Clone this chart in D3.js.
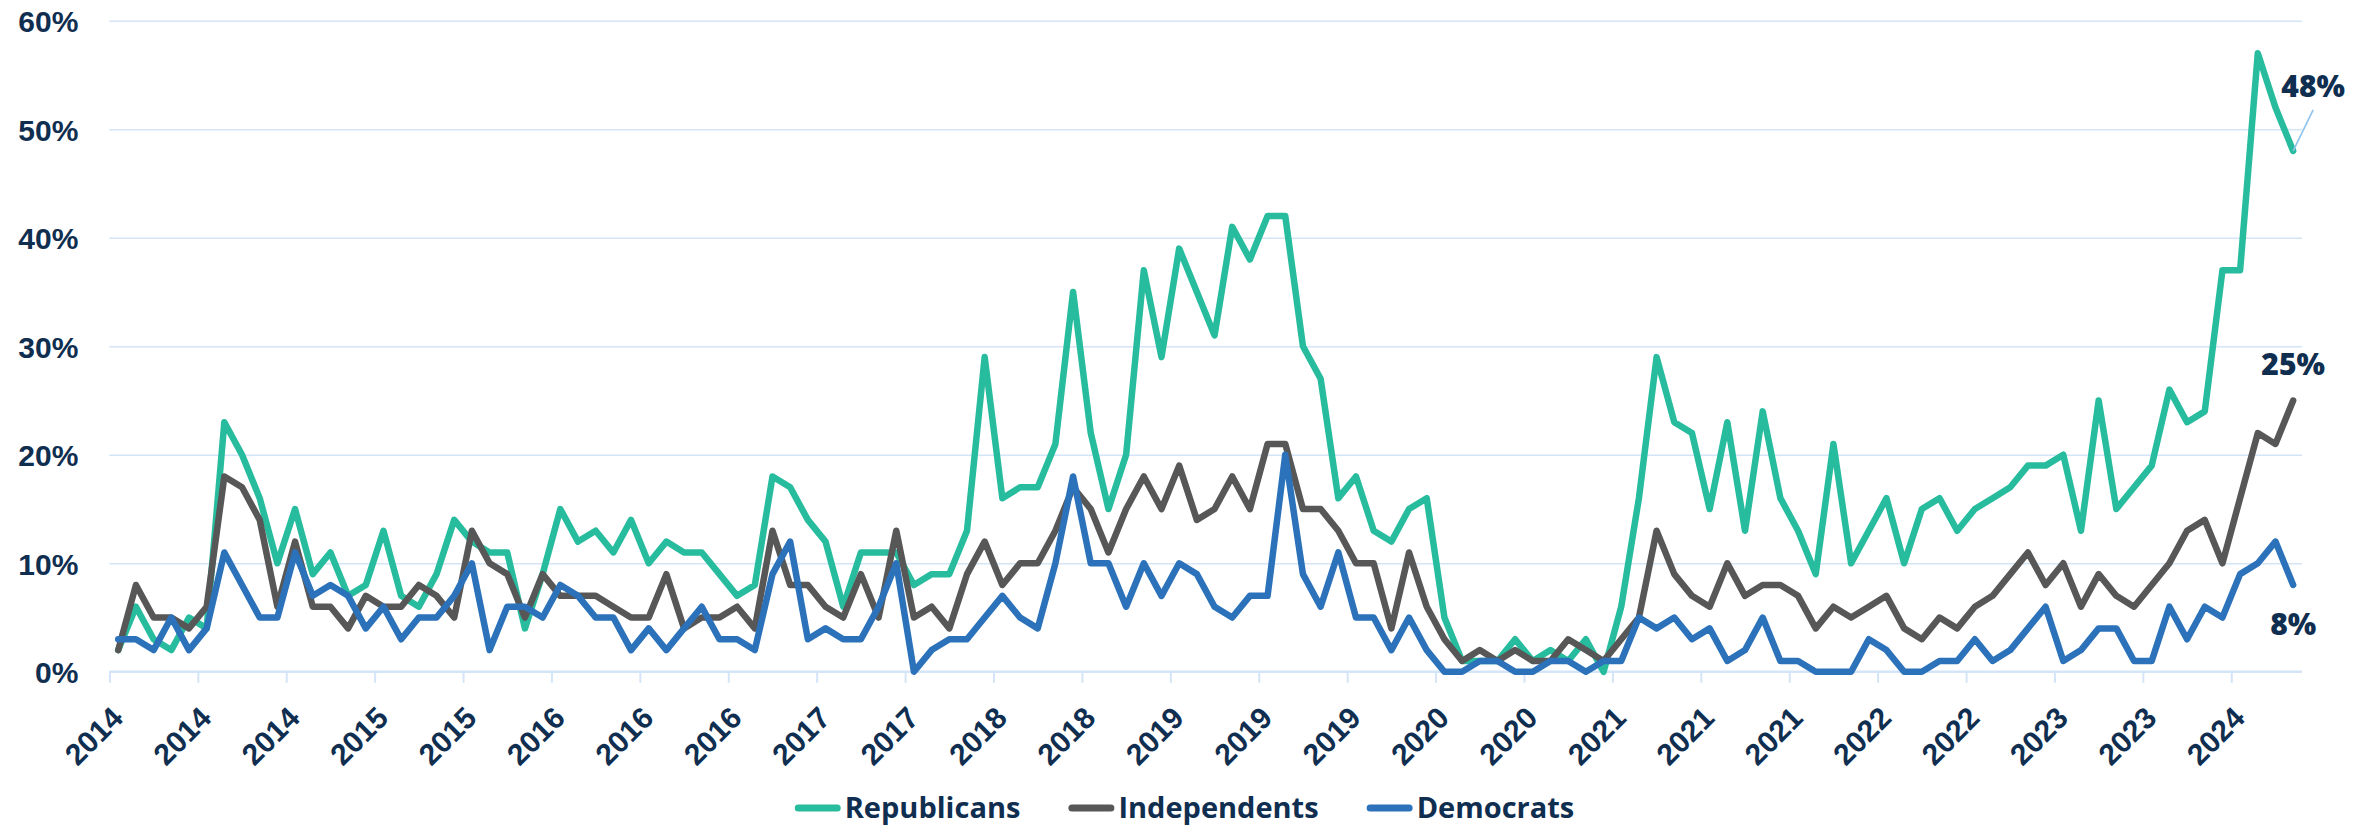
<!DOCTYPE html>
<html>
<head>
<meta charset="utf-8">
<script src="https://cdn.jsdelivr.net/npm/d3@7"></script>
<style>
  html, body { margin: 0; padding: 0; background: #ffffff; }
  svg { display: block; font-family: "Open Sans", "Noto Sans", sans-serif; }
</style>
</head>
<body>
<svg id="chart" width="2374" height="828"></svg>
<script>
// ---------------- data ----------------
const startMonth = "2014-01";           // first category (monthly, Jan 2014 .. Apr 2024)
const monthCount = 124;
const tickLabels = ["2014","2014","2014","2015","2015","2016","2016","2016","2017","2017",
  "2018","2018","2019","2019","2019","2020","2020","2021","2021","2021",
  "2022","2022","2023","2023","2024"];
const tickEvery = 5;

const seriesNames = ["Republicans", "Independents", "Democrats"];

const republicans = [2,6,3,2,5,4,23,20,16,10,15,9,11,7,8,13,7,6,9,14,
  12,11,11,4,9,15,12,13,11,14,10,12,11,11,9,7,8,18,17,14,
  12,6,11,11,11,8,9,9,13,29,16,17,17,21,35,22,15,20,37,29,
  39,35,31,41,38,42,42,30,27,16,18,13,12,15,16,5,1,1,1,3,
  1,2,1,3,0,6,16,29,23,22,15,23,13,24,16,13,9,21,10,13,
  16,10,15,16,13,15,16,17,19,19,20,13,25,15,17,19,26,23,24,37,
  37,57,52,48];

const independents = [2,8,5,5,4,6,18,17,14,6,12,6,6,4,7,6,6,8,7,5,
  13,10,9,5,9,7,7,7,6,5,5,9,4,5,5,6,4,13,8,8,
  6,5,9,5,13,5,6,4,9,12,8,10,10,13,17,15,11,15,18,15,
  19,14,15,18,15,21,21,15,15,13,10,10,4,11,6,3,1,2,1,2,
  1,1,3,2,1,3,5,13,9,7,6,10,7,8,8,7,4,6,5,6,
  7,4,3,5,4,6,7,9,11,8,10,6,9,7,6,8,10,13,14,10,
  16,22,21,25];

const democrats = [3,3,2,5,2,4,11,8,5,5,11,7,8,7,4,6,3,5,5,7,
  10,2,6,6,5,8,7,5,5,2,4,2,4,6,3,3,2,9,12,3,
  4,3,3,6,10,0,2,3,3,5,7,5,4,10,18,10,10,6,10,7,
  10,9,6,5,7,7,20,9,6,11,5,5,2,5,2,0,0,1,1,0,
  0,1,1,0,1,1,5,4,5,3,4,1,2,5,1,1,0,0,0,3,
  2,0,0,1,1,3,1,2,4,6,1,2,4,4,1,1,6,3,6,5,
  9,10,12,8];

const yTicks = [0, 10, 20, 30, 40, 50, 60];

// ---------------- style ----------------
const colors = { Republicans: "#27bc9e", Independents: "#575757", Democrats: "#2b72ba" };
const navy = "#0f2e50";
const gridColor = "#d3e5f7";

// ---------------- layout ----------------
const W = 2374, H = 828;
const plot = { left: 109.4, right: 2302, top: 20.7, bottom: 671.8 };

const svg = d3.select("#chart");

const months = d3.timeMonth.range(d3.timeParse("%Y-%m")(startMonth),
  d3.timeMonth.offset(d3.timeParse("%Y-%m")(startMonth), monthCount));
const cats = months.map(d3.timeFormat("%Y-%m"));

const x = d3.scaleBand().domain(cats).range([plot.left, plot.right]).padding(0);
const xEdge = d3.scaleLinear().domain([0, cats.length]).range([plot.left, plot.right]);
const y = d3.scaleLinear().domain([0, 60]).range([plot.bottom, plot.top]);

// gridlines + y labels
const yAxis = d3.axisLeft(y)
  .tickValues(yTicks)
  .tickSize(-(plot.right - plot.left))
  .tickPadding(31)
  .tickFormat(d => d + "%");

const gy = svg.append("g")
  .attr("transform", `translate(${plot.left},0)`)
  .call(yAxis);
gy.select(".domain").remove();
gy.selectAll(".tick line")
  .attr("stroke", gridColor)
  .attr("stroke-width", 1.6);
gy.selectAll(".tick text")
  .attr("fill", navy)
  .attr("font-size", 30)
  .attr("font-weight", 800)
  .attr("dy", "0.36em");

// x axis (ticks at category boundaries every 5 months)
const tickIdx = tickLabels.map((_, i) => i * tickEvery);
const xAxis = d3.axisBottom(xEdge)
  .tickValues(tickIdx)
  .tickSize(11)
  .tickFormat((d, i) => tickLabels[i]);

const gx = svg.append("g")
  .attr("transform", `translate(0,${plot.bottom})`)
  .call(xAxis);
gx.select(".domain")
  .attr("stroke", gridColor)
  .attr("stroke-width", 2.4)
  .attr("d", `M${plot.left},0H${plot.right}`);
gx.selectAll(".tick line")
  .attr("stroke", gridColor)
  .attr("stroke-width", 2);
gx.selectAll(".tick text")
  .attr("fill", navy)
  .attr("font-size", 30)
  .attr("font-weight", 800)
  .attr("text-anchor", "end")
  .attr("y", null)
  .attr("dy", null)
  .attr("transform", `translate(${x.bandwidth() / 2 + 6},48) rotate(-45)`);

// lines
const seriesData = { Republicans: republicans, Independents: independents, Democrats: democrats };
const line = d3.line()
  .x((d, i) => x(cats[i]) + x.bandwidth() / 2)
  .y(d => y(d));

seriesNames.forEach(name => {
  svg.append("path")
    .datum(seriesData[name])
    .attr("fill", "none")
    .attr("stroke", colors[name])
    .attr("stroke-width", 6.5)
    .attr("stroke-linejoin", "round")
    .attr("stroke-linecap", "round")
    .attr("d", line);
});

// end labels
const last = cats.length - 1;
const lx = x(cats[last]) + x.bandwidth() / 2;
const endLabels = [
  { name: "Republicans", dx: 20, dy: -54, leader: true },
  { name: "Independents", dx: 0, dy: -26, leader: false },
  { name: "Democrats", dx: 0, dy: 50, leader: false }
];
endLabels.forEach(l => {
  const v = seriesData[l.name][last];
  const py = y(v);
  if (l.leader) {
    svg.append("line")
      .attr("x1", lx).attr("y1", py)
      .attr("x2", lx + l.dx).attr("y2", py - 41)
      .attr("stroke", "#8ec3ee")
      .attr("stroke-width", 1.6);
  }
  svg.append("text")
    .attr("x", lx + l.dx)
    .attr("y", py + l.dy)
    .attr("text-anchor", "middle")
    .attr("fill", navy)
    .attr("font-size", 30)
    .attr("font-weight", 800)
    .text(v + "%");
});

// legend
const legend = svg.append("g");
let cx = 0;
const legendY = 808;
seriesNames.forEach((name, i) => {
  const g = legend.append("g").attr("transform", `translate(${cx},0)`);
  g.append("line")
    .attr("x1", 3.5).attr("x2", 42.5)
    .attr("y1", legendY).attr("y2", legendY)
    .attr("stroke", colors[name])
    .attr("stroke-width", 7)
    .attr("stroke-linecap", "round");
  const t = g.append("text")
    .attr("x", 50)
    .attr("y", legendY)
    .attr("dy", "0.34em")
    .attr("fill", navy)
    .attr("font-size", 29)
    .attr("font-weight", 700)
    .text(name);
  cx += 50 + t.node().getComputedTextLength() + 48;
});
const legendWidth = cx - 48;
legend.attr("transform", `translate(${1184.5 - legendWidth / 2},0)`);
</script>
</body>
</html>
